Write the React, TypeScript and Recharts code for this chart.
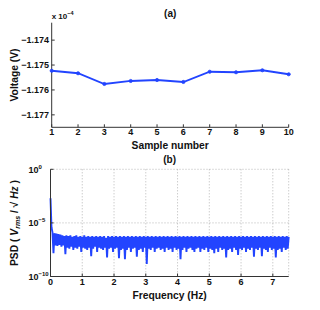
import { LineChart, Line, XAxis, YAxis, CartesianGrid } from 'recharts';

// (a) repeated voltage readings, in units of 1e-4 V
const samples = [1, 2, 3, 4, 5, 6, 7, 8, 9, 10];
const voltage = [-1.17523, -1.17533, -1.17576, -1.17564, -1.1756, -1.17568, -1.17527, -1.17529, -1.17521, -1.17537];
const voltTicks = [-1.177, -1.176, -1.175, -1.174];
const voltDomain = [-1.1775, -1.1733];

// (b) power spectral density, bins spaced 0.03125 Hz from 0 to 7.5 Hz
const freqStep = 0.03125;
const psd = [
  2e-3, 4e-6, 1.3e-6, 1.5e-8, 1.1e-6, 8e-8, 1e-6, 7e-8, 9e-7, 9e-8,
  8e-7, 6e-8, 7e-7, 8e-8, 6e-7, 1.2e-8, 7e-7, 5e-8, 6e-7, 4e-8,
  7e-7, 6e-8, 5e-7, 3e-8, 6e-7, 5e-8, 7e-7, 4e-8, 5e-7, 6e-8,
  6e-7, 2e-8, 5e-7, 5e-8, 7e-7, 4e-8, 5e-7, 3e-8, 6e-7, 5e-8,
  5e-7, 8e-9, 6e-7, 4e-8, 5e-7, 6e-8, 6e-7, 2e-8, 5e-7, 5e-8,
  6e-7, 4e-8, 5e-7, 3e-8, 6e-7, 5e-8, 4e-7, 6e-9, 6e-7, 4e-8,
  5e-7, 5e-8, 6e-7, 2e-8, 5e-7, 4e-8, 6e-7, 5e-8, 5e-7, 5e-9,
  6e-7, 3e-8, 5e-7, 4e-8, 6e-7, 4e-9, 5e-7, 3e-8, 6e-7, 5e-8,
  5e-7, 2e-8, 6e-7, 4e-8, 5e-7, 5e-8, 6e-7, 7e-9, 5e-7, 3e-8,
  6e-7, 4e-8, 5e-7, 2e-8, 6e-7, 5e-8, 5e-7, 1.5e-9, 6e-7, 4e-8,
  5e-7, 3e-8, 6e-7, 5e-8, 5e-7, 2e-8, 6e-7, 4e-8, 5e-7, 5e-8,
  6e-7, 3e-8, 5e-7, 4e-8, 6e-7, 2e-8, 5e-7, 5e-8, 6e-7, 3e-8,
  5e-7, 4e-8, 6e-7, 2e-8, 5e-7, 5e-8, 6e-7, 3e-8, 5e-7, 4e-8,
  6e-7, 4e-9, 5e-7, 3e-8, 6e-7, 5e-8, 5e-7, 2e-8, 6e-7, 4e-8,
  5e-7, 5e-8, 6e-7, 3e-8, 5e-7, 2e-8, 6e-7, 4e-8, 5e-7, 5e-8,
  6e-7, 2e-8, 5e-7, 4e-8, 6e-7, 3e-8, 5e-7, 5e-8, 6e-7, 2e-8,
  5e-7, 4e-8, 6e-7, 3e-8, 5e-7, 1.5e-8, 6e-7, 4e-8, 5e-7, 2e-8,
  6e-7, 5e-8, 5e-7, 3e-8, 6e-7, 4e-8, 5e-7, 6e-9, 6e-7, 3e-8,
  5e-7, 4e-8, 6e-7, 2e-8, 5e-7, 5e-8, 6e-7, 3e-8, 5e-7, 1e-8,
  6e-7, 4e-8, 5e-7, 3e-8, 6e-7, 5e-8, 5e-7, 2e-8, 6e-7, 4e-8,
  5e-7, 3e-8, 6e-7, 5e-8, 5e-7, 7e-9, 6e-7, 4e-8, 5e-7, 3e-8,
  6e-7, 5e-8, 5e-7, 8e-9, 6e-7, 4e-8, 5e-7, 3e-8, 6e-7, 2e-8,
  5e-7, 5e-8, 6e-7, 3e-8, 5e-7, 4e-8, 6e-7, 6e-9, 5e-7, 3e-8,
  6e-7, 4e-8, 5e-7, 2e-8, 6e-7, 5e-8, 5e-7, 3e-8, 6e-7, 4e-8,
  5e-7,
];
const freqTicks = [0, 1, 2, 3, 4, 5, 6, 7];
const psdTicks = [1e-10, 1e-5, 1];
const psdTickExp = ['\u221210', '\u22125', '0'];

const BLUE = '#2244ff';
const AXIS = '#333';
const FONT = '"Liberation Sans", Arial, sans-serif';

const voltData = samples.map((n, i) => ({ n, v: voltage[i] }));
const psdData = psd.map((p, i) => ({ f: i * freqStep, p }));

const txt = { fontFamily: FONT, fontWeight: 700, fill: '#111' } as const;

const BottomTick = ({ x, y, payload }: any) => (
  <text x={x} y={y + 7} textAnchor="middle" fontSize={9} {...txt}>
    {payload.value}
  </text>
);

const VoltTick = ({ x, y, payload }: any) => (
  <text x={x} y={y + 3.2} textAnchor="end" fontSize={9} {...txt}>
    {payload.value.toFixed(3).replace('-', '\u2212')}
  </text>
);

const PsdTick = ({ x, y, payload }: any) => {
  const i = psdTicks.findIndex((t) => Math.abs(Math.log10(t) - Math.log10(payload.value)) < 0.01);
  return (
    <text x={x} y={y + 3.3} textAnchor="start" fontSize={9} {...txt}>
      10<tspan dy={-4} fontSize={6}>{psdTickExp[i]}</tspan>
    </text>
  );
};

export default function App() {
  return (
    <div style={{ position: 'absolute', left: 0, top: 0, width: 320, height: 310, background: '#fff' }}>
      <div style={{ position: 'absolute', left: 0, top: 0 }}>
        <LineChart width={320} height={150} data={voltData} margin={{ top: 22.7, right: 31.3, bottom: 0, left: 0 }}>
          <XAxis dataKey="n" type="number" domain={[1, 10]} ticks={samples} height={22.7}
            stroke={AXIS} tickSize={-3} tickMargin={4} tick={<BottomTick />} />
          <XAxis xAxisId="top" orientation="top" dataKey="n" type="number" domain={[1, 10]} ticks={samples}
            height={0} stroke={AXIS} tickSize={-3} tick={false} />
          <YAxis dataKey="v" type="number" domain={voltDomain} ticks={voltTicks} width={51.7} allowDataOverflow
            stroke={AXIS} tickSize={-3} tickMargin={5.7} tick={<VoltTick />} />
          <YAxis yAxisId="right" orientation="right" type="number" domain={voltDomain} ticks={voltTicks}
            width={0} stroke={AXIS} tickSize={-3} tick={false} allowDataOverflow />
          <Line dataKey="v" stroke={BLUE} strokeWidth={1.8} isAnimationActive={false}
            dot={{ r: 1.6, fill: BLUE, stroke: BLUE, strokeWidth: 0.8 }} />
        </LineChart>
      </div>
      <div style={{ position: 'absolute', left: 0, top: 150 }}>
        <LineChart width={320} height={160} data={psdData} margin={{ top: 19.3, right: 31.3, bottom: 0, left: 0 }}>
          <CartesianGrid stroke="#999" strokeDasharray="1 2" strokeWidth={0.7} />
          <XAxis dataKey="f" type="number" domain={[0, 7.5]} ticks={freqTicks} height={33.5}
            stroke={AXIS} tickSize={-3} tickMargin={4} tick={<BottomTick />} />
          <XAxis xAxisId="top" orientation="top" dataKey="f" type="number" domain={[0, 7.5]} ticks={freqTicks}
            height={0} stroke={AXIS} tickSize={-3} tick={false} />
          <YAxis dataKey="p" type="number" scale="log" domain={[1e-10, 1]} ticks={psdTicks} width={50.5}
            allowDataOverflow stroke={AXIS} tickSize={-3} tickMargin={25} tick={<PsdTick />} />
          <YAxis yAxisId="right" orientation="right" type="number" scale="log" domain={[1e-10, 1]} ticks={psdTicks}
            width={0} stroke={AXIS} tickSize={-3} tick={false} allowDataOverflow />
          <Line dataKey="p" stroke={BLUE} strokeWidth={1.9} strokeLinejoin="bevel" dot={false} isAnimationActive={false} />
        </LineChart>
      </div>
      <svg width={320} height={310} style={{ position: 'absolute', left: 0, top: 0, pointerEvents: 'none' }}>
        <text x={170.2} y={17} textAnchor="middle" fontSize={10} {...txt}>(a)</text>
        <text x={51.7} y={18.5} fontSize={8} {...txt}>
          x 10<tspan dy={-4} fontSize={5.5}>{'\u22124'}</tspan>
        </text>
        <text x={170.2} y={149.4} textAnchor="middle" fontSize={10.3} {...txt}>Sample number</text>
        <text transform="translate(17.7,75) rotate(-90)" textAnchor="middle" fontSize={10.3} {...txt}>Voltage (V)</text>
        <text x={169.6} y={162.5} textAnchor="middle" fontSize={10} {...txt}>(b)</text>
        <text x={169.6} y={298.7} textAnchor="middle" fontSize={10.3} {...txt}>Frequency (Hz)</text>
        <text transform="translate(17.7,223) rotate(-90)" textAnchor="middle" fontSize={10.3} {...txt}>
          PSD  (  <tspan fontStyle="italic">V</tspan>
          <tspan fontStyle="italic" fontSize={7} dy={2.5}>rms</tspan>
          <tspan dy={-2.5}> / {'\u221A'}</tspan>
          <tspan fontStyle="italic"> Hz</tspan> )
        </text>
      </svg>
    </div>
  );
}
